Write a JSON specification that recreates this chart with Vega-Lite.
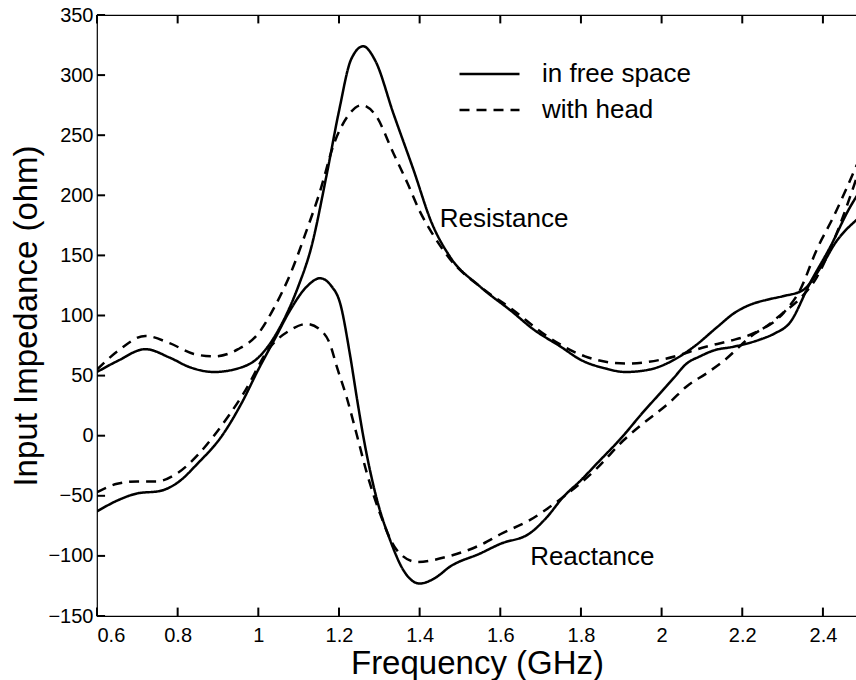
{
  "$schema": "https://vega.github.io/schema/vega-lite/v6.json",
  "width": 760,
  "height": 601,
  "autosize": {"type": "none"},
  "padding": {"left": 97, "top": 15, "right": 0, "bottom": 64},
  "background": "white",
  "config": {
    "view": {"stroke": "black", "strokeWidth": 1.2},
    "font": "Liberation Sans",
    "axis": {
      "domain": false,
      "ticks": false,
      "labelColor": "black",
      "labelFont": "Liberation Sans",
      "labelFontSize": 20,
      "titleFont": "Liberation Sans",
      "titleFontSize": 33,
      "titleFontWeight": "normal",
      "titleColor": "black",
      "grid": false
    }
  },
  "datasets": {
    "curves": [
      {"f": 0.60, "v": 53, "quantity": "Resistance", "medium": "in free space"},
      {"f": 0.65, "v": 62, "quantity": "Resistance", "medium": "in free space"},
      {"f": 0.72, "v": 72, "quantity": "Resistance", "medium": "in free space"},
      {"f": 0.78, "v": 65, "quantity": "Resistance", "medium": "in free space"},
      {"f": 0.83, "v": 57, "quantity": "Resistance", "medium": "in free space"},
      {"f": 0.89, "v": 53, "quantity": "Resistance", "medium": "in free space"},
      {"f": 0.95, "v": 56, "quantity": "Resistance", "medium": "in free space"},
      {"f": 1.00, "v": 65, "quantity": "Resistance", "medium": "in free space"},
      {"f": 1.05, "v": 88, "quantity": "Resistance", "medium": "in free space"},
      {"f": 1.10, "v": 125, "quantity": "Resistance", "medium": "in free space"},
      {"f": 1.13, "v": 155, "quantity": "Resistance", "medium": "in free space"},
      {"f": 1.17, "v": 218, "quantity": "Resistance", "medium": "in free space"},
      {"f": 1.20, "v": 270, "quantity": "Resistance", "medium": "in free space"},
      {"f": 1.23, "v": 313, "quantity": "Resistance", "medium": "in free space"},
      {"f": 1.26, "v": 324, "quantity": "Resistance", "medium": "in free space"},
      {"f": 1.29, "v": 312, "quantity": "Resistance", "medium": "in free space"},
      {"f": 1.335, "v": 268, "quantity": "Resistance", "medium": "in free space"},
      {"f": 1.385, "v": 221, "quantity": "Resistance", "medium": "in free space"},
      {"f": 1.43, "v": 177, "quantity": "Resistance", "medium": "in free space"},
      {"f": 1.475, "v": 149, "quantity": "Resistance", "medium": "in free space"},
      {"f": 1.55, "v": 124, "quantity": "Resistance", "medium": "in free space"},
      {"f": 1.63, "v": 103, "quantity": "Resistance", "medium": "in free space"},
      {"f": 1.68, "v": 89, "quantity": "Resistance", "medium": "in free space"},
      {"f": 1.75, "v": 74, "quantity": "Resistance", "medium": "in free space"},
      {"f": 1.80, "v": 63, "quantity": "Resistance", "medium": "in free space"},
      {"f": 1.86, "v": 56, "quantity": "Resistance", "medium": "in free space"},
      {"f": 1.91, "v": 53, "quantity": "Resistance", "medium": "in free space"},
      {"f": 1.97, "v": 55, "quantity": "Resistance", "medium": "in free space"},
      {"f": 2.03, "v": 63, "quantity": "Resistance", "medium": "in free space"},
      {"f": 2.08, "v": 74, "quantity": "Resistance", "medium": "in free space"},
      {"f": 2.14, "v": 91, "quantity": "Resistance", "medium": "in free space"},
      {"f": 2.18, "v": 102, "quantity": "Resistance", "medium": "in free space"},
      {"f": 2.22, "v": 109, "quantity": "Resistance", "medium": "in free space"},
      {"f": 2.26, "v": 113, "quantity": "Resistance", "medium": "in free space"},
      {"f": 2.30, "v": 116, "quantity": "Resistance", "medium": "in free space"},
      {"f": 2.35, "v": 121, "quantity": "Resistance", "medium": "in free space"},
      {"f": 2.40, "v": 143, "quantity": "Resistance", "medium": "in free space"},
      {"f": 2.43, "v": 160, "quantity": "Resistance", "medium": "in free space"},
      {"f": 2.485, "v": 180, "quantity": "Resistance", "medium": "in free space"},

      {"f": 0.60, "v": 55, "quantity": "Resistance", "medium": "with head"},
      {"f": 0.65, "v": 70, "quantity": "Resistance", "medium": "with head"},
      {"f": 0.72, "v": 83, "quantity": "Resistance", "medium": "with head"},
      {"f": 0.78, "v": 77, "quantity": "Resistance", "medium": "with head"},
      {"f": 0.84, "v": 68, "quantity": "Resistance", "medium": "with head"},
      {"f": 0.89, "v": 66, "quantity": "Resistance", "medium": "with head"},
      {"f": 0.95, "v": 72, "quantity": "Resistance", "medium": "with head"},
      {"f": 1.00, "v": 85, "quantity": "Resistance", "medium": "with head"},
      {"f": 1.04, "v": 107, "quantity": "Resistance", "medium": "with head"},
      {"f": 1.08, "v": 135, "quantity": "Resistance", "medium": "with head"},
      {"f": 1.12, "v": 171, "quantity": "Resistance", "medium": "with head"},
      {"f": 1.15, "v": 200, "quantity": "Resistance", "medium": "with head"},
      {"f": 1.19, "v": 245, "quantity": "Resistance", "medium": "with head"},
      {"f": 1.22, "v": 265, "quantity": "Resistance", "medium": "with head"},
      {"f": 1.256, "v": 275, "quantity": "Resistance", "medium": "with head"},
      {"f": 1.29, "v": 267, "quantity": "Resistance", "medium": "with head"},
      {"f": 1.335, "v": 235, "quantity": "Resistance", "medium": "with head"},
      {"f": 1.37, "v": 210, "quantity": "Resistance", "medium": "with head"},
      {"f": 1.40, "v": 187, "quantity": "Resistance", "medium": "with head"},
      {"f": 1.43, "v": 169, "quantity": "Resistance", "medium": "with head"},
      {"f": 1.475, "v": 147, "quantity": "Resistance", "medium": "with head"},
      {"f": 1.55, "v": 124, "quantity": "Resistance", "medium": "with head"},
      {"f": 1.63, "v": 105, "quantity": "Resistance", "medium": "with head"},
      {"f": 1.715, "v": 83, "quantity": "Resistance", "medium": "with head"},
      {"f": 1.81, "v": 66, "quantity": "Resistance", "medium": "with head"},
      {"f": 1.91, "v": 60, "quantity": "Resistance", "medium": "with head"},
      {"f": 2.01, "v": 64, "quantity": "Resistance", "medium": "with head"},
      {"f": 2.11, "v": 74, "quantity": "Resistance", "medium": "with head"},
      {"f": 2.17, "v": 79, "quantity": "Resistance", "medium": "with head"},
      {"f": 2.22, "v": 84, "quantity": "Resistance", "medium": "with head"},
      {"f": 2.26, "v": 91, "quantity": "Resistance", "medium": "with head"},
      {"f": 2.30, "v": 102, "quantity": "Resistance", "medium": "with head"},
      {"f": 2.34, "v": 113, "quantity": "Resistance", "medium": "with head"},
      {"f": 2.385, "v": 132, "quantity": "Resistance", "medium": "with head"},
      {"f": 2.43, "v": 165, "quantity": "Resistance", "medium": "with head"},
      {"f": 2.485, "v": 216, "quantity": "Resistance", "medium": "with head"},

      {"f": 0.60, "v": -63, "quantity": "Reactance", "medium": "in free space"},
      {"f": 0.65, "v": -54, "quantity": "Reactance", "medium": "in free space"},
      {"f": 0.70, "v": -48, "quantity": "Reactance", "medium": "in free space"},
      {"f": 0.756, "v": -46, "quantity": "Reactance", "medium": "in free space"},
      {"f": 0.80, "v": -39, "quantity": "Reactance", "medium": "in free space"},
      {"f": 0.85, "v": -23, "quantity": "Reactance", "medium": "in free space"},
      {"f": 0.91, "v": 0, "quantity": "Reactance", "medium": "in free space"},
      {"f": 0.96, "v": 28, "quantity": "Reactance", "medium": "in free space"},
      {"f": 1.00, "v": 55, "quantity": "Reactance", "medium": "in free space"},
      {"f": 1.04, "v": 80, "quantity": "Reactance", "medium": "in free space"},
      {"f": 1.08, "v": 105, "quantity": "Reactance", "medium": "in free space"},
      {"f": 1.12, "v": 124, "quantity": "Reactance", "medium": "in free space"},
      {"f": 1.153, "v": 131, "quantity": "Reactance", "medium": "in free space"},
      {"f": 1.18, "v": 125, "quantity": "Reactance", "medium": "in free space"},
      {"f": 1.203, "v": 110, "quantity": "Reactance", "medium": "in free space"},
      {"f": 1.227, "v": 68, "quantity": "Reactance", "medium": "in free space"},
      {"f": 1.245, "v": 30, "quantity": "Reactance", "medium": "in free space"},
      {"f": 1.26, "v": 0, "quantity": "Reactance", "medium": "in free space"},
      {"f": 1.294, "v": -53, "quantity": "Reactance", "medium": "in free space"},
      {"f": 1.327, "v": -87, "quantity": "Reactance", "medium": "in free space"},
      {"f": 1.36, "v": -112, "quantity": "Reactance", "medium": "in free space"},
      {"f": 1.40, "v": -123, "quantity": "Reactance", "medium": "in free space"},
      {"f": 1.44, "v": -118, "quantity": "Reactance", "medium": "in free space"},
      {"f": 1.475, "v": -109, "quantity": "Reactance", "medium": "in free space"},
      {"f": 1.55, "v": -98, "quantity": "Reactance", "medium": "in free space"},
      {"f": 1.60, "v": -90, "quantity": "Reactance", "medium": "in free space"},
      {"f": 1.674, "v": -81, "quantity": "Reactance", "medium": "in free space"},
      {"f": 1.715, "v": -68, "quantity": "Reactance", "medium": "in free space"},
      {"f": 1.756, "v": -51, "quantity": "Reactance", "medium": "in free space"},
      {"f": 1.80, "v": -37, "quantity": "Reactance", "medium": "in free space"},
      {"f": 1.84, "v": -23, "quantity": "Reactance", "medium": "in free space"},
      {"f": 1.905, "v": 0, "quantity": "Reactance", "medium": "in free space"},
      {"f": 1.95, "v": 18, "quantity": "Reactance", "medium": "in free space"},
      {"f": 1.99, "v": 33, "quantity": "Reactance", "medium": "in free space"},
      {"f": 2.03, "v": 48, "quantity": "Reactance", "medium": "in free space"},
      {"f": 2.062, "v": 60, "quantity": "Reactance", "medium": "in free space"},
      {"f": 2.095, "v": 66, "quantity": "Reactance", "medium": "in free space"},
      {"f": 2.13, "v": 71, "quantity": "Reactance", "medium": "in free space"},
      {"f": 2.178, "v": 74, "quantity": "Reactance", "medium": "in free space"},
      {"f": 2.244, "v": 80, "quantity": "Reactance", "medium": "in free space"},
      {"f": 2.28, "v": 85, "quantity": "Reactance", "medium": "in free space"},
      {"f": 2.318, "v": 94, "quantity": "Reactance", "medium": "in free space"},
      {"f": 2.368, "v": 127, "quantity": "Reactance", "medium": "in free space"},
      {"f": 2.418, "v": 157, "quantity": "Reactance", "medium": "in free space"},
      {"f": 2.467, "v": 190, "quantity": "Reactance", "medium": "in free space"},
      {"f": 2.485, "v": 200, "quantity": "Reactance", "medium": "in free space"},

      {"f": 0.60, "v": -47, "quantity": "Reactance", "medium": "with head"},
      {"f": 0.65, "v": -40, "quantity": "Reactance", "medium": "with head"},
      {"f": 0.70, "v": -38, "quantity": "Reactance", "medium": "with head"},
      {"f": 0.748, "v": -38, "quantity": "Reactance", "medium": "with head"},
      {"f": 0.80, "v": -31, "quantity": "Reactance", "medium": "with head"},
      {"f": 0.85, "v": -16, "quantity": "Reactance", "medium": "with head"},
      {"f": 0.89, "v": 0, "quantity": "Reactance", "medium": "with head"},
      {"f": 0.963, "v": 35, "quantity": "Reactance", "medium": "with head"},
      {"f": 1.03, "v": 74, "quantity": "Reactance", "medium": "with head"},
      {"f": 1.08, "v": 88, "quantity": "Reactance", "medium": "with head"},
      {"f": 1.12, "v": 93, "quantity": "Reactance", "medium": "with head"},
      {"f": 1.15, "v": 89, "quantity": "Reactance", "medium": "with head"},
      {"f": 1.178, "v": 76, "quantity": "Reactance", "medium": "with head"},
      {"f": 1.195, "v": 57, "quantity": "Reactance", "medium": "with head"},
      {"f": 1.219, "v": 32, "quantity": "Reactance", "medium": "with head"},
      {"f": 1.244, "v": 1, "quantity": "Reactance", "medium": "with head"},
      {"f": 1.269, "v": -31, "quantity": "Reactance", "medium": "with head"},
      {"f": 1.302, "v": -65, "quantity": "Reactance", "medium": "with head"},
      {"f": 1.343, "v": -95, "quantity": "Reactance", "medium": "with head"},
      {"f": 1.393, "v": -105, "quantity": "Reactance", "medium": "with head"},
      {"f": 1.475, "v": -100, "quantity": "Reactance", "medium": "with head"},
      {"f": 1.55, "v": -91, "quantity": "Reactance", "medium": "with head"},
      {"f": 1.60, "v": -82, "quantity": "Reactance", "medium": "with head"},
      {"f": 1.674, "v": -70, "quantity": "Reactance", "medium": "with head"},
      {"f": 1.756, "v": -51, "quantity": "Reactance", "medium": "with head"},
      {"f": 1.84, "v": -27, "quantity": "Reactance", "medium": "with head"},
      {"f": 1.905, "v": -4, "quantity": "Reactance", "medium": "with head"},
      {"f": 1.946, "v": 8, "quantity": "Reactance", "medium": "with head"},
      {"f": 2.021, "v": 28, "quantity": "Reactance", "medium": "with head"},
      {"f": 2.062, "v": 41, "quantity": "Reactance", "medium": "with head"},
      {"f": 2.112, "v": 52, "quantity": "Reactance", "medium": "with head"},
      {"f": 2.153, "v": 62, "quantity": "Reactance", "medium": "with head"},
      {"f": 2.219, "v": 82, "quantity": "Reactance", "medium": "with head"},
      {"f": 2.302, "v": 102, "quantity": "Reactance", "medium": "with head"},
      {"f": 2.343, "v": 121, "quantity": "Reactance", "medium": "with head"},
      {"f": 2.385, "v": 155, "quantity": "Reactance", "medium": "with head"},
      {"f": 2.426, "v": 182, "quantity": "Reactance", "medium": "with head"},
      {"f": 2.485, "v": 226, "quantity": "Reactance", "medium": "with head"}
    ],
    "notes": [
      {"f": 1.45, "v": 180, "label": "Resistance"},
      {"f": 1.674, "v": -101, "label": "Reactance"}
    ],
    "xticks": [
      {"f": 0.6}, {"f": 0.8}, {"f": 1.0}, {"f": 1.2}, {"f": 1.4},
      {"f": 1.6}, {"f": 1.8}, {"f": 2.0}, {"f": 2.2}, {"f": 2.4}
    ],
    "yticks": [
      {"v": -150}, {"v": -100}, {"v": -50}, {"v": 0}, {"v": 50},
      {"v": 100}, {"v": 150}, {"v": 200}, {"v": 250}, {"v": 300}, {"v": 350}
    ]
  },
  "layer": [
    {
      "data": {"name": "curves"},
      "mark": {"type": "line", "interpolate": "monotone", "strokeWidth": 2.5, "color": "black", "clip": true},
      "encoding": {
        "x": {
          "field": "f", "type": "quantitative",
          "scale": {"domain": [0.6, 2.4845], "nice": false, "zero": false},
          "axis": {"orient": "bottom", "title": "Frequency (GHz)", "values": [0.6, 0.8, 1, 1.2, 1.4, 1.6, 1.8, 2, 2.2, 2.4], "format": "~g", "labelPadding": 9, "titlePadding": 2}
        },
        "y": {
          "field": "v", "type": "quantitative",
          "scale": {"domain": [-150, 350], "nice": false, "zero": false},
          "axis": {"orient": "left", "title": "Input Impedance (ohm)", "values": [-150, -100, -50, 0, 50, 100, 150, 200, 250, 300, 350], "labelPadding": 4, "titlePadding": 4}
        },
        "strokeDash": {
          "field": "medium", "type": "nominal",
          "scale": {"domain": ["in free space", "with head"], "range": [[1, 0], [10, 7]]},
          "legend": {
            "orient": "none", "legendX": 361, "legendY": 41, "title": null, "padding": 0,
            "symbolType": "stroke", "symbolSize": 3600, "symbolStrokeWidth": 2.5, "symbolStrokeColor": "black",
            "labelFontSize": 26, "labelFont": "Liberation Sans", "labelColor": "black", "labelOffset": 21,
            "clipHeight": 36, "rowPadding": 0
          }
        },
        "detail": {"field": "quantity", "type": "nominal"},
        "order": {"field": "f", "type": "quantitative"}
      }
    },
    {
      "mark": {"type": "rule", "strokeDash": [10, 12], "strokeWidth": 1, "color": "black"},
      "encoding": {"y": {"datum": 0, "type": "quantitative"}}
    },
    {
      "data": {"name": "notes"},
      "mark": {"type": "text", "align": "left", "baseline": "middle", "fontSize": 26, "font": "Liberation Sans", "color": "black"},
      "encoding": {
        "x": {"field": "f", "type": "quantitative"},
        "y": {"field": "v", "type": "quantitative"},
        "text": {"field": "label"}
      }
    },
    {
      "data": {"name": "xticks"},
      "mark": {"type": "rule", "color": "black", "strokeWidth": 2},
      "encoding": {
        "x": {"field": "f", "type": "quantitative"},
        "y": {"datum": -150, "type": "quantitative"},
        "y2": {"datum": -143}
      }
    },
    {
      "data": {"name": "xticks"},
      "mark": {"type": "rule", "color": "black", "strokeWidth": 2},
      "encoding": {
        "x": {"field": "f", "type": "quantitative"},
        "y": {"datum": 350, "type": "quantitative"},
        "y2": {"datum": 343}
      }
    },
    {
      "data": {"name": "yticks"},
      "mark": {"type": "rule", "color": "black", "strokeWidth": 2},
      "encoding": {
        "x": {"datum": 0.6, "type": "quantitative"},
        "x2": {"datum": 0.62},
        "y": {"field": "v", "type": "quantitative"}
      }
    }
  ]
}
